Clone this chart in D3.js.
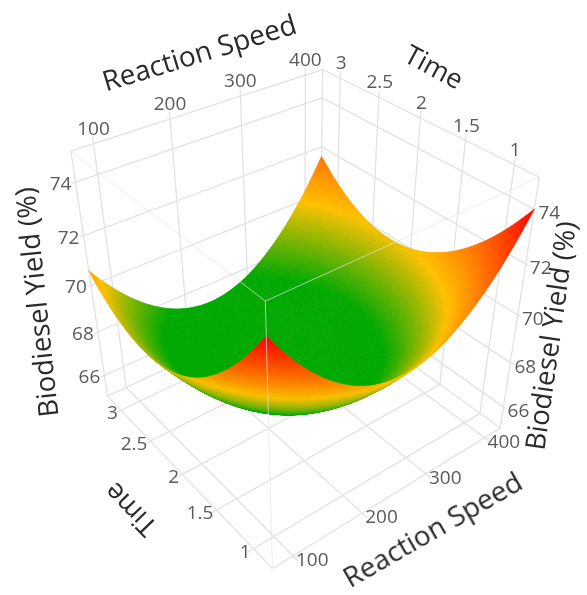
<!DOCTYPE html>
<html>
<head>
<meta charset="utf-8">
<script src="https://cdn.jsdelivr.net/npm/d3@7"></script>
<style>
  html, body { margin: 0; padding: 0; background: #fff; }
  text { font-family: "Open Sans", sans-serif; }
</style>
</head>
<body>
<div id="chart-area"></div>
<script>
var width = 587, height = 595;

// surface nodes
var speedNodes = [72, 116.5, 161, 205.5, 250, 294.5, 339, 383.5, 428];
var timeNodes = [0.76, 1.07, 1.38, 1.69, 2, 2.31, 2.62, 2.93, 3.24];
var yieldT076 = [74.00, 72.29, 71.08, 70.34, 70.10, 70.34, 71.08, 72.29, 74.00];
var yieldT107 = [72.35, 70.65, 69.46, 68.74, 68.51, 68.77, 69.52, 70.75, 72.47];
var yieldT138 = [71.05, 69.38, 68.19, 67.49, 67.28, 67.55, 68.31, 69.56, 71.30];
var yieldT169 = [70.09, 68.44, 67.27, 66.58, 66.39, 66.68, 67.46, 68.72, 70.48];
var yieldT200 = [69.50, 67.86, 66.70, 66.03, 65.85, 66.16, 66.95, 68.23, 70.00];
var yieldT231 = [69.25, 67.62, 66.48, 65.83, 65.66, 65.98, 66.79, 68.09, 69.87];
var yieldT262 = [69.35, 67.74, 66.61, 65.98, 65.83, 66.16, 66.99, 68.30, 70.10];
var yieldT293 = [69.80, 68.20, 67.10, 66.47, 66.34, 66.69, 67.53, 68.86, 70.68];
var yieldT324 = [70.60, 69.02, 67.93, 67.32, 67.20, 67.57, 68.43, 69.77, 71.60];
var yieldRows = [yieldT076, yieldT107, yieldT138, yieldT169, yieldT200, yieldT231, yieldT262, yieldT293, yieldT324];

var speedTicks = [100, 200, 300, 400];
var timeTicks = [1, 1.5, 2, 2.5, 3];
var yieldTicks = [66, 68, 70, 72, 74];

var speedRange = [72, 428], timeRange = [0.76, 3.24], yieldRange = [65, 75.1];

var colorStops = [67.6, 70, 74];
var colorValues = ["#00a800", "#ffc000", "#ff0000"];

var x = d3.scaleLinear().domain(speedRange).range([0, 1]);
var y = d3.scaleLinear().domain(timeRange).range([0, 1]);
var z = d3.scaleLinear().domain(yieldRange).range([0, 1]);
var color = d3.scaleLinear().domain(colorStops).range(colorValues).clamp(true);

// where the eight box corners land in the window: [u, v, t, px, py]
var boxCorners = [
    [0, 0, 0, 272, 569], [1, 0, 0, 501, 427], [0, 1, 0, 108, 396], [1, 1, 0, 319, 298],
    [0, 0, 1, 265, 301], [1, 0, 1, 539, 178], [0, 1, 1, 71, 151], [1, 1, 1, 323, 69]
];

// fit the perspective camera to the corners (least squares, 11 unknowns)
function fitCamera(pts) {
    var rows = [], rhs = [];
    pts.forEach(function (p) {
        var px = p[3] / 500, py = p[4] / 500;
        rows.push([p[0], p[1], p[2], 1, 0, 0, 0, 0, -px * p[0], -px * p[1], -px * p[2]]);
        rhs.push(px);
        rows.push([0, 0, 0, 0, p[0], p[1], p[2], 1, -py * p[0], -py * p[1], -py * p[2]]);
        rhs.push(py);
    });
    var n = 11, m = [];
    for (var i = 0; i < n; i++) {
        m[i] = [];
        for (var j = 0; j < n; j++) m[i][j] = d3.sum(rows, function (r) { return r[i] * r[j]; });
        m[i][n] = d3.sum(rows, function (r, k) { return r[i] * rhs[k]; });
    }
    for (var c = 0; c < n; c++) {
        var best = c;
        for (var r = c + 1; r < n; r++) if (Math.abs(m[r][c]) > Math.abs(m[best][c])) best = r;
        var tmp = m[c]; m[c] = m[best]; m[best] = tmp;
        for (var r2 = 0; r2 < n; r2++) {
            if (r2 == c) continue;
            var f = m[r2][c] / m[c][c];
            for (var k = c; k <= n; k++) m[r2][k] -= f * m[c][k];
        }
    }
    return m.map(function (row, i) { return row[n] / row[i]; });
}
var cam = fitCamera(boxCorners);

function depthOf(u, v, t) { return cam[8] * u + cam[9] * v + cam[10] * t + 1; }
function projectUnit(u, v, t) {
    var w = depthOf(u, v, t);
    return [
        500 * (cam[0] * u + cam[1] * v + cam[2] * t + cam[3]) / w,
        500 * (cam[4] * u + cam[5] * v + cam[6] * t + cam[7]) / w
    ];
}
// farther points have the bigger value here
var depthSign = depthOf(1, 1, 0) > depthOf(0, 0, 1) ? 1 : -1;

var svg = d3.select("#chart-area")
    .append("svg")
    .attr("width", width)
    .attr("height", height)
    .style("display", "block");

// the reference is a soft, upscaled picture
svg.append("defs").append("filter")
    .attr("id", "soft")
    .attr("x", 0).attr("y", 0).attr("width", 1).attr("height", 1)
    .append("feGaussianBlur")
    .attr("stdDeviation", 0.4);

var root = svg.append("g").attr("filter", "url(#soft)");
root.append("rect").attr("width", width).attr("height", height).attr("fill", "#fff");

var line = d3.line();
var gridColor = "#e2e2e2";

function seg(g, a, b, col, w) {
    g.append("path")
        .attr("d", line([projectUnit(a[0], a[1], a[2]), projectUnit(b[0], b[1], b[2])]))
        .attr("fill", "none")
        .attr("stroke", col)
        .attr("stroke-width", w);
}

// walls and floor
var grid = root.append("g");
var stub = 0.025;
speedTicks.forEach(function (d) {
    seg(grid, [x(d), 1, 0], [x(d), 1, 1 + stub], gridColor, 1.3);
    seg(grid, [x(d), -stub, 0], [x(d), 1, 0], gridColor, 1.3);
});
timeTicks.forEach(function (d) {
    seg(grid, [1, y(d), 0], [1, y(d), 1 + stub], gridColor, 1.3);
    seg(grid, [-stub, y(d), 0], [1, y(d), 0], gridColor, 1.3);
});
yieldTicks.forEach(function (d) {
    seg(grid, [-stub * 0.5, 1, z(d)], [1, 1, z(d)], gridColor, 1.3);
    seg(grid, [1, 1, z(d)], [1, -stub * 0.5, z(d)], gridColor, 1.3);
});
var farEdges = [
    [[0, 1, 1], [1, 1, 1]], [[1, 1, 1], [1, 0, 1]], [[0, 1, 0], [0, 1, 1]], [[1, 1, 0], [1, 1, 1]],
    [[1, 0, 0], [1, 0, 1]], [[0, 1, 0], [1, 1, 0]], [[1, 1, 0], [1, 0, 0]], [[0, 0, 0], [0, 1, 0]], [[0, 0, 0], [1, 0, 0]]
];
farEdges.forEach(function (e) { seg(grid, e[0], e[1], gridColor, 1.3); });

// smooth the nodes for drawing, one cubic per direction
function cubic(p0, p1, p2, p3, s) {
    return 0.5 * (2 * p1 + (p2 - p0) * s + (2 * p0 - 5 * p1 + 4 * p2 - p3) * s * s + (3 * p1 - p0 - 3 * p2 + p3) * s * s * s);
}
function along(arr, f) {
    var n = arr.length - 1;
    var i = Math.min(Math.floor(f * n), n - 1);
    var s = f * n - i;
    var p0 = i > 0 ? arr[i - 1] : 3 * arr[0] - 3 * arr[1] + arr[2];
    var p3 = i < n - 1 ? arr[i + 2] : 3 * arr[n] - 3 * arr[n - 1] + arr[n - 2];
    return cubic(p0, arr[i], arr[i + 1], p3, s);
}
function yieldAt(fu, fv) {
    return along(yieldRows.map(function (row) { return along(row, fu); }), fv);
}

// surface cells, far ones first
var steps = 110, cells = [], heights = [];
for (var j = 0; j <= steps; j++) {
    heights[j] = [];
    for (var i = 0; i <= steps; i++) heights[j][i] = yieldAt(i / steps, j / steps);
}
for (var j2 = 0; j2 < steps; j2++) {
    for (var i2 = 0; i2 < steps; i2++) {
        var u0 = i2 / steps, u1 = (i2 + 1) / steps, v0 = j2 / steps, v1 = (j2 + 1) / steps;
        var corners = [[u0, v0, heights[j2][i2]], [u1, v0, heights[j2][i2 + 1]], [u1, v1, heights[j2 + 1][i2 + 1]], [u0, v1, heights[j2 + 1][i2]]];
        cells.push({
            pts: corners.map(function (c) { return projectUnit(c[0], c[1], z(c[2])); }),
            val: d3.mean(corners, function (c) { return c[2]; }),
            depth: depthSign * depthOf((u0 + u1) / 2, (v0 + v1) / 2, z(d3.mean(corners, function (c) { return c[2]; })))
        });
    }
}
cells.sort(function (a, b) { return d3.descending(a.depth, b.depth); });

root.append("g")
    .selectAll("path")
    .data(cells)
    .enter()
    .append("path")
    .attr("d", function (d) { return line(d.pts) + "Z"; })
    .attr("fill", function (d) { return color(d.val); })
    .attr("stroke", function (d) { return color(d.val); })
    .attr("stroke-width", 0.7);

// near box edges go over the surface
var near = root.append("g").attr("opacity", 0.7);
seg(near, [0, 1, 1], [0, 0, 1], "#e4e4e4", 1);
seg(near, [1, 0, 1], [0, 0, 1], "#e4e4e4", 1);
seg(near, [0, 0, 0], [0, 0, 1], "#e4e4e4", 1);

// tick labels
var tickG = root.append("g")
    .attr("fill", "#5a5a5a")
    .style("font-size", "19px");

function tickLabel(pt, dx, dy, txt, anchor) {
    tickG.append("text")
        .attr("x", pt[0] + dx)
        .attr("y", pt[1] + dy)
        .attr("text-anchor", anchor)
        .attr("dominant-baseline", "middle")
        .text(txt);
}
speedTicks.forEach(function (d) {
    tickLabel(projectUnit(x(d), 1, 1), 0, -14, d, "middle");
    tickLabel(projectUnit(x(d), 0, 0), 3, 5, d, "start");
});
timeTicks.forEach(function (d) {
    tickLabel(projectUnit(1, y(d), 1), 1, -14, d, "middle");
    tickLabel(projectUnit(0, y(d), 0), -3, 4, d, "end");
});
yieldTicks.forEach(function (d) {
    tickLabel(projectUnit(0, 1, z(d)), -15, 3, d, "middle");
    tickLabel(projectUnit(1, 0, z(d)), 15, 5, d, "middle");
});

// axis titles
var titles = [
    ["Reaction Speed", 200, 55, -17, 28],
    ["Time", 433, 69, 28, 27],
    ["Biodiesel Yield (%)", 39, 302, -96, 27.5],
    ["Biodiesel Yield (%)", 553, 336, -82, 27.5],
    ["Time", 132, 508, 226, 27],
    ["Reaction Speed", 434, 532, -30, 28]
];
root.append("g")
    .selectAll("text")
    .data(titles)
    .enter()
    .append("text")
    .attr("transform", function (d) { return "translate(" + d[1] + "," + d[2] + ") rotate(" + d[3] + ")"; })
    .attr("text-anchor", "middle")
    .attr("dominant-baseline", "middle")
    .attr("fill", "#2a2a2a")
    .style("font-size", function (d) { return d[4] + "px"; })
    .text(function (d) { return d[0]; });
</script>
</body>
</html>
